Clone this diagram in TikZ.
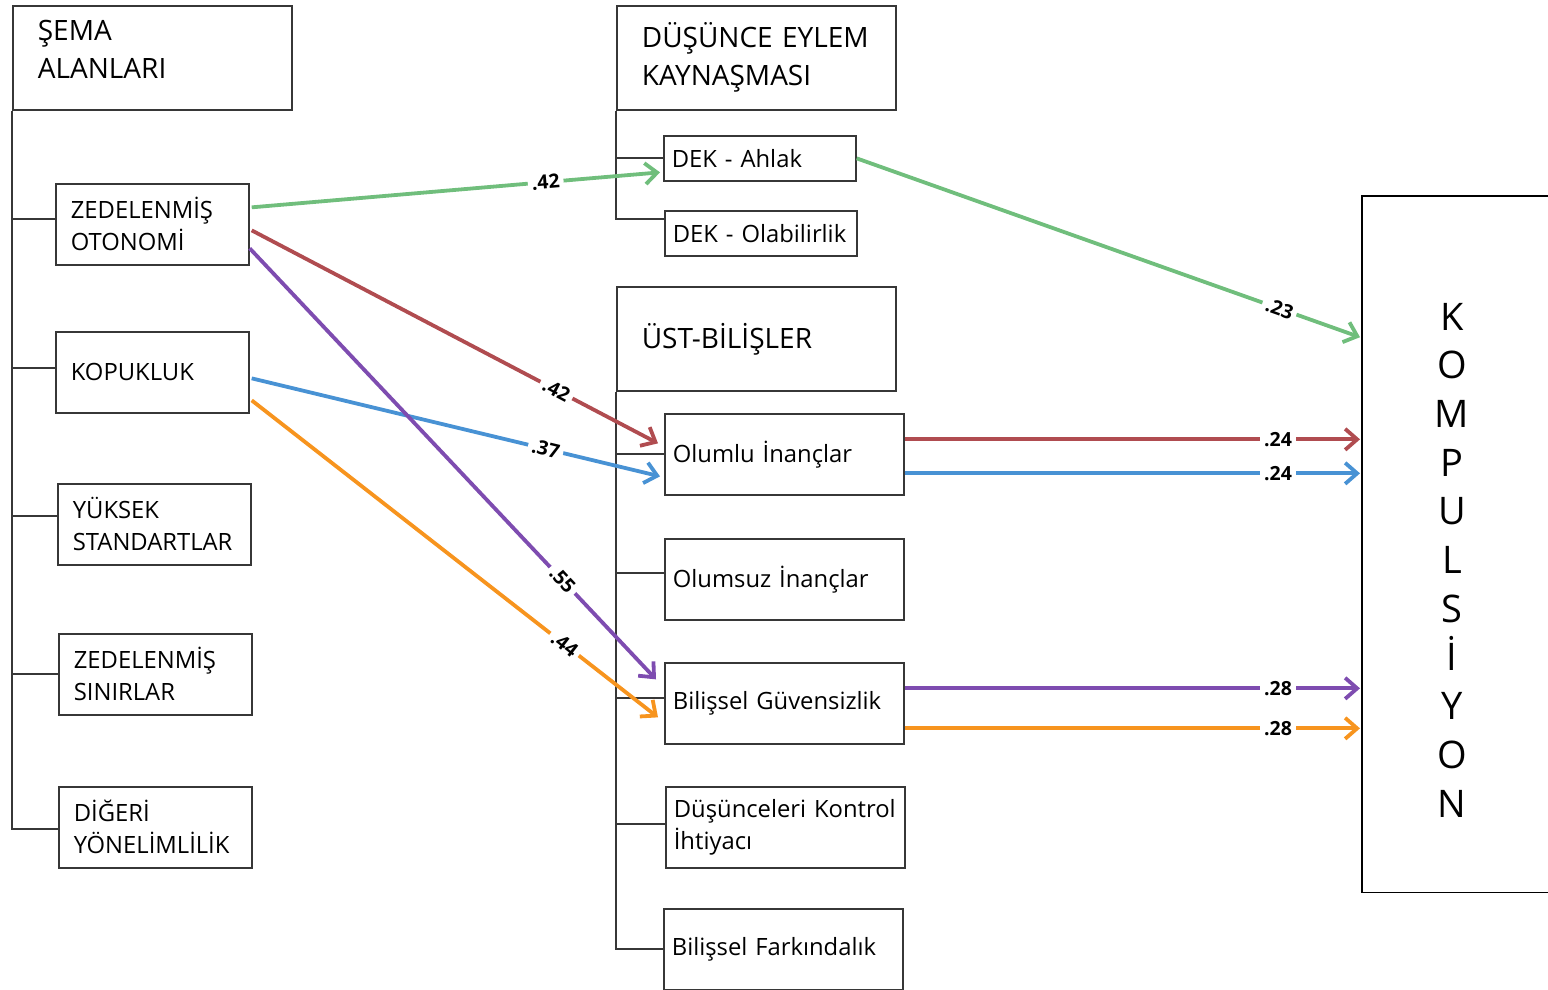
\documentclass[tikz,border=0pt]{standalone}
\usepackage{fontspec}
\setmainfont{Open Sans}
\usetikzlibrary{
  arrows.meta,
  positioning,
  calc
}
\definecolor{boxgray}{RGB}{55,55,55}
\definecolor{pgreen}{RGB}{112,190,124}
\definecolor{pred}{RGB}{176,76,80}
\definecolor{pblue}{RGB}{72,146,212}
\definecolor{ppurple}{RGB}{126,76,176}
\definecolor{porange}{RGB}{247,148,30}

\tikzset{
  box/.style={draw=boxgray, line width=1.7pt, anchor=north west, align=left,
    inner ysep=0pt, font=\fontsize{23.8}{32}\selectfont},
  leftbox/.style={box, inner xsep=15pt, text width=163pt, minimum height=81pt},
  midbox/.style={box, inner xsep=8pt, text width=223pt, minimum height=81pt},
  dekbox/.style={box, inner xsep=8pt, text width=176pt, minimum height=45pt},
  headbox/.style={box, inner xsep=25pt, text width=229pt, minimum height=104pt,
    font=\fontsize{28}{38}\selectfont},
  tree/.style={draw=boxgray, line width=1.8pt},
  arr/.style={line width=3.8pt, -{Straight Barb[length=12pt, width=21pt]}},
  coef/.style={sloped, fill=white, inner xsep=4pt, inner ysep=1pt,
    font=\bfseries\fontsize{19.5}{19.5}\selectfont, text=black}
}

\begin{document}
\begin{tikzpicture}[x=1pt, y=-1pt]
  \useasboundingbox (0,0) rectangle (1548,990);

  % sema alanlari
  \node[headbox, text depth=55pt] (sema) at (12,5) {ŞEMA\\ALANLARI};
  \node[leftbox] (zo)    at (55,183) {ZEDELENMİŞ\\OTONOMİ};
  \node[leftbox] (kop)   at (55,331) {KOPUKLUK};
  \node[leftbox] (yuk)   at (57,483) {YÜKSEK\\STANDARTLAR};
  \node[leftbox] (zsin)  at (58,633) {ZEDELENMİŞ\\SINIRLAR};
  \node[leftbox] (diger) at (58,786) {DİĞERİ\\YÖNELİMLİLİK};
  \foreach \n/\s in {zo/5, kop/4, yuk/8, zsin/0, diger/-2}
    \draw[tree] (sema.south west) |- ([yshift=\s pt]\n.west);

  % dusunce eylem kaynasmasi
  \node[headbox] (dek) at (616,5) {DÜŞÜNCE EYLEM\\KAYNAŞMASI};
  \node[dekbox] (ahlak) at (663,135) {DEK - Ahlak};
  \node[dekbox] (olab)  at (664,210) {DEK - Olabilirlik};
  \foreach \n/\s in {ahlak/0, olab/14}
    \draw[tree] (dek.south west) |- ([yshift=\s pt]\n.west);

  % ust-bilisler
  \node[headbox] (ust) at (616,286) {ÜST-BİLİŞLER};
  \node[midbox] (olumlu)  at (664,413) {Olumlu İnançlar};
  \node[midbox] (olumsuz) at (664,538) {Olumsuz İnançlar};
  \node[midbox] (bg)      at (664,662) {Bilişsel Güvensizlik};
  \node[midbox] (dki)     at (665,786) {Düşünceleri Kontrol\\İhtiyacı};
  \node[midbox] (bf)      at (663,908) {Bilişsel Farkındalık};
  \foreach \n/\s in {olumlu/0, olumsuz/6, bg/5, dki/3, bf/0}
    \draw[tree] (ust.south west) |- ([yshift=\s pt]\n.west);

  % kompulsiyon
  \node[draw=none, anchor=north west, minimum width=186pt, minimum height=696pt,
    inner sep=0pt] (komp) at (1362,196) {};
  \draw[line width=1.7pt, draw=black] (komp.north east) -- (komp.north west)
    -- (komp.south west) -- (komp.south east);
  \node[align=center, font=\fontsize{38}{48.7}\selectfont] (kompt) at (1452,560)
    {K\\O\\M\\P\\U\\L\\S\\İ\\Y\\O\\N};

  % yollar
  \draw[arr, pgreen] ([xshift=2pt,yshift=17pt]zo.east) -- ([xshift=-3pt,yshift=-14pt]ahlak.west)
    node[coef, pos=0.72] {.42};
  \draw[arr, pred] ([xshift=2pt,yshift=-6pt]zo.east) -- ([xshift=-6pt,yshift=11pt]olumlu.west)
    node[coef, pos=0.75] {.42};
  \draw[arr, pblue] ([xshift=2pt,yshift=-6pt]kop.east) -- ([xshift=-4pt,yshift=-22pt]olumlu.west)
    node[coef, pos=0.72] {.37};
  \draw[arr, ppurple] ([yshift=-24pt]zo.east) -- ([xshift=-8pt,yshift=24pt]bg.west)
    node[coef, pos=0.77] {.55};
  \draw[arr, porange] ([xshift=2pt,yshift=-28pt]kop.east) -- ([xshift=-6pt,yshift=-14pt]bg.west)
    node[coef, pos=0.77] {.44};

  \draw[arr, pgreen] (ahlak.east) -- ([xshift=-2pt,yshift=207pt]komp.west)
    node[coef, pos=0.84] {.23};
  \draw[arr, pred] ([yshift=15pt]olumlu.east) -- ([xshift=-2pt,yshift=15pt]olumlu.east -| komp.west)
    node[coef, pos=0.82] {.24};
  \draw[arr, pblue] ([yshift=-19pt]olumlu.east) -- ([xshift=-2pt,yshift=-19pt]olumlu.east -| komp.west)
    node[coef, pos=0.82] {.24};
  \draw[arr, ppurple] ([yshift=15pt]bg.east) -- ([xshift=-2pt,yshift=15pt]bg.east -| komp.west)
    node[coef, pos=0.82] {.28};
  \draw[arr, porange] ([yshift=-25pt]bg.east) -- ([xshift=-2pt,yshift=-25pt]bg.east -| komp.west)
    node[coef, pos=0.82] {.28};
\end{tikzpicture}
\end{document}
